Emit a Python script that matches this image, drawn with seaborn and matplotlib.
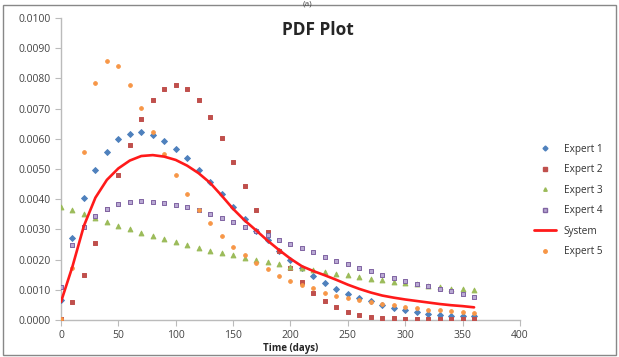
import numpy as np
import pandas as pd
import seaborn as sns
import matplotlib.pyplot as plt
from matplotlib.lines import Line2D
from matplotlib.patches import Rectangle

days = list(range(0, 370, 10))

expert1 = [0.00066, 0.00273, 0.00404, 0.00497, 0.00557, 0.00598, 0.00617, 0.00621, 0.00613, 0.00594,
           0.00566, 0.00535, 0.00497, 0.00457, 0.00416, 0.00375, 0.00335, 0.00296, 0.00264, 0.00228,
           0.00199, 0.00172, 0.00146, 0.00124, 0.00104, 0.00087, 0.00074, 0.00062, 0.00049, 0.00041,
           0.00034, 0.00028, 0.00021, 0.00016, 0.00014, 0.00013, 0.00012]
expert2 = [0.00002, 0.00060, 0.00148, 0.00254, 0.00367, 0.00480, 0.00578, 0.00664, 0.00728, 0.00766,
           0.00778, 0.00766, 0.00728, 0.00673, 0.00601, 0.00524, 0.00445, 0.00364, 0.00290, 0.00228,
           0.00173, 0.00125, 0.00090, 0.00063, 0.00042, 0.00028, 0.00018, 0.00011, 0.00008, 0.00006,
           0.00005, 0.00004, 0.00003, 0.00003, 0.00002, 0.00002, 0.00002]
expert3 = [0.00375, 0.00364, 0.00351, 0.00337, 0.00323, 0.00311, 0.00300, 0.00289, 0.00278, 0.00267,
           0.00258, 0.00248, 0.00239, 0.00229, 0.00223, 0.00214, 0.00204, 0.00199, 0.00191, 0.00185,
           0.00176, 0.00171, 0.00166, 0.00160, 0.00151, 0.00148, 0.00141, 0.00137, 0.00132, 0.00127,
           0.00124, 0.00118, 0.00112, 0.00109, 0.00104, 0.00102, 0.00099]
expert4 = [0.00108, 0.00247, 0.00308, 0.00344, 0.00368, 0.00385, 0.00392, 0.00394, 0.00392, 0.00388,
           0.00381, 0.00373, 0.00363, 0.00350, 0.00339, 0.00325, 0.00307, 0.00296, 0.00281, 0.00265,
           0.00252, 0.00237, 0.00226, 0.00210, 0.00196, 0.00184, 0.00173, 0.00162, 0.00149, 0.00138,
           0.00128, 0.00118, 0.00112, 0.00103, 0.00097, 0.00086, 0.00077]
expert5 = [0.00003, 0.00173, 0.00557, 0.00786, 0.00858, 0.00841, 0.00778, 0.00701, 0.00621, 0.00549,
           0.00480, 0.00417, 0.00364, 0.00320, 0.00278, 0.00243, 0.00214, 0.00190, 0.00168, 0.00146,
           0.00129, 0.00116, 0.00105, 0.00090, 0.00080, 0.00073, 0.00066, 0.00061, 0.00053, 0.00049,
           0.00043, 0.00039, 0.00034, 0.00032, 0.00029, 0.00025, 0.00023]
system = [0.00060, 0.00177, 0.00312, 0.00405, 0.00464, 0.00502, 0.00528, 0.00543, 0.00546, 0.00541,
          0.00530, 0.00511, 0.00486, 0.00454, 0.00412, 0.00368, 0.00330, 0.00297, 0.00263, 0.00232,
          0.00203, 0.00178, 0.00162, 0.00148, 0.00133, 0.00117, 0.00103, 0.00091, 0.00081, 0.00074,
          0.00068, 0.00063, 0.00058, 0.00053, 0.00049, 0.00046, 0.00042]

sns.set_style('white')
plt.rcParams['font.family'] = ['Open Sans', 'DejaVu Sans']

fig = plt.figure(figsize=(6.19, 3.57), dpi=100)
ax = fig.add_axes([0.0985, 0.1036, 0.7415, 0.846])

styles = {
    'Expert 1': (expert1, '#4F81BD', 'D', 9, '#4F81BD'),
    'Expert 2': (expert2, '#C0504D', 's', 9, '#C0504D'),
    'Expert 3': (expert3, '#9BBB59', '^', 12, '#9BBB59'),
    'Expert 4': (expert4, '#8064A2', 's', 10, '#B9A9D3'),
    'Expert 5': (expert5, '#F79646', 'o', 7, '#F79646'),
}
handles = {}
for name, (vals, col, mk, sz, face) in styles.items():
    df = pd.DataFrame({'day': days, 'pdf': vals})
    sns.scatterplot(data=df, x='day', y='pdf', ax=ax, marker=mk, s=sz,
                    color=face, edgecolor=col, linewidth=0.7, zorder=3)
    handles[name] = Line2D([], [], ls='none', marker=mk, markersize=2.5,
                           markerfacecolor=face, markeredgecolor=col)

sys_df = pd.DataFrame({'day': days, 'pdf': system})
sns.lineplot(data=sys_df, x='day', y='pdf', ax=ax, color='#FF1A1A', lw=1.9, zorder=4)
handles['System'] = Line2D([], [], color='#FF1A1A', lw=2)

order = ['Expert 1', 'Expert 2', 'Expert 3', 'Expert 4', 'System', 'Expert 5']
ax.legend([handles[k] for k in order], order, loc='center left',
          bbox_to_anchor=(1.01, 0.395), frameon=False, fontsize=7.2,
          handlelength=2.2, labelspacing=0.95, labelcolor='#333333')

ax.set_xlim(0, 400)
ax.set_ylim(0, 0.01)
ax.set_xticks(range(0, 401, 50))
ax.set_yticks(np.arange(0, 0.01001, 0.001))
ax.set_yticklabels([f'{v:.4f}' for v in np.arange(0, 0.01001, 0.001)])
ax.tick_params(axis='both', labelsize=7.5, labelcolor='#444444', length=4,
               color='#BBBBBB', direction='out', bottom=True, left=True)
for side in ['top', 'right']:
    ax.spines[side].set_visible(False)
for side in ['left', 'bottom']:
    ax.spines[side].set_color('#BBBBBB')
    ax.spines[side].set_linewidth(1)

ax.set_xlabel('Time (days)', fontsize=7, fontweight='bold', labelpad=1)
ax.set_ylabel('')
fig.text(0.514, 0.915, 'PDF Plot', fontsize=12.5, fontweight='bold', ha='center', va='center')

fig.add_artist(Rectangle((0.005, 0.006), 0.99, 0.981, transform=fig.transFigure,
                         fill=False, edgecolor='#888888', lw=1))
fig.text(0.497, 0.999, '(a)', fontsize=6, ha='center', va='top', color='#444444')

fig.savefig('out.png', dpi=100)
